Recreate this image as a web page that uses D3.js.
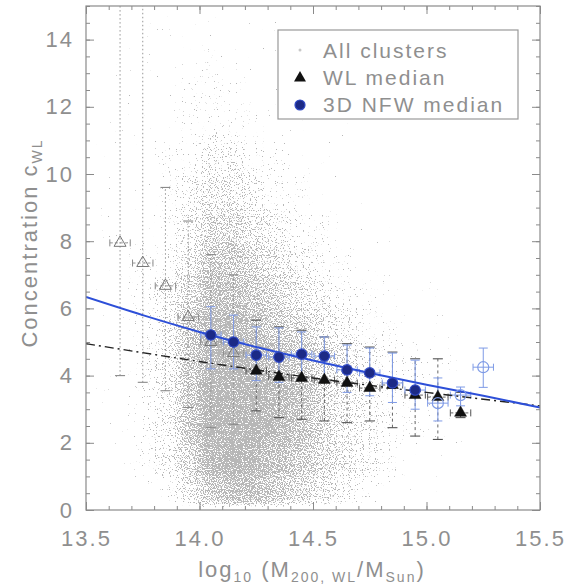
<!DOCTYPE html>
<html><head><meta charset="utf-8">
<script src="https://cdn.jsdelivr.net/npm/d3@7"></script>
<style>
body{margin:0;background:#fff}
text{font-family:"Liberation Sans",Arial,sans-serif;fill:#8f8f8f;letter-spacing:2px}
</style>
</head><body><svg id="c" width="566" height="586"></svg>
<script>
// ---------- data ----------
const xTickValues = [13.5, 14.0, 14.5, 15.0, 15.5];
const yTickValues = [0, 2, 4, 6, 8, 10, 12, 14];

// density of "All clusters" cloud: columns = log mass bins (left edges), rows = concentration bins (lower edges), level 0-9
const densityXBins = [13.5,13.6,13.7,13.8,13.9,14.0,14.1,14.2,14.3,14.4,14.5,14.6,14.7,14.8,14.9,15.0,15.1,15.2,15.3,15.4];
const densityYBins = [14,13,12,11,10,9,8,7,6,5,4,3,2,1,0];
const densityLevels = [
  [0,0,1,1,1,1,1,1,1,0,0,0,0,0,0,0,0,0,0,0],
  [0,1,1,1,1,2,1,1,1,1,0,0,0,0,0,0,0,0,0,0],
  [0,1,1,1,2,2,2,1,1,1,1,0,0,0,0,0,0,0,0,0],
  [1,1,1,1,2,2,2,2,1,1,1,1,0,0,0,0,0,0,0,0],
  [1,1,1,2,2,3,3,2,2,1,1,1,0,0,0,0,0,0,0,0],
  [1,1,1,2,3,4,4,3,2,2,1,1,1,0,0,0,0,0,0,0],
  [1,1,1,2,3,5,5,4,3,2,2,1,1,1,0,0,0,0,0,0],
  [1,1,2,2,4,6,6,5,4,3,2,2,1,1,1,0,0,0,0,0],
  [1,1,2,3,5,7,7,6,5,4,3,2,2,1,1,1,0,0,0,0],
  [1,1,2,3,6,8,8,7,6,5,4,3,2,2,1,1,1,0,0,0],
  [1,1,2,3,6,8,9,8,7,6,5,4,3,2,2,1,1,0,0,0],
  [1,1,2,3,6,9,9,9,8,7,5,4,3,2,2,1,1,1,0,0],
  [1,1,2,3,6,9,9,9,8,7,5,4,3,2,2,1,1,0,0,0],
  [1,1,2,3,5,8,9,8,7,6,5,4,3,2,1,1,1,0,0,0],
  [0,1,1,2,4,6,7,7,6,5,4,3,2,1,1,1,0,0,0,0]
];

// WL median (triangles)
const wlMass   = [13.65,13.75,13.85,13.95,14.05,14.15,14.25,14.35,14.45,14.55,14.65,14.75,14.85,14.95,15.05,15.15];
const wlMedian = [7.95,7.35,6.67,5.74,5.00,4.67,4.14,3.96,3.93,3.87,3.78,3.63,3.72,3.42,3.36,2.89];
const wlLow    = [4.00,3.80,3.55,3.05,2.45,2.55,2.95,2.75,2.70,2.65,2.60,2.65,2.45,2.20,2.10,2.75];
const wlHigh   = [16.0,16.0,9.60,8.60,7.60,7.00,5.65,5.45,5.35,5.15,4.95,4.85,4.70,4.50,4.50,3.50];
const wlFilled = [false,false,false,false,false,false,true,true,true,true,true,true,true,true,true,true];

// 3D NFW median (circles)
const nfwMass   = [14.05,14.15,14.25,14.35,14.45,14.55,14.65,14.75,14.85,14.95,15.05,15.15,15.25];
const nfwMedian = [5.21,5.00,4.61,4.55,4.64,4.58,4.17,4.08,3.78,3.57,3.18,3.42,4.25];
const nfwLow    = [4.20,4.20,3.85,3.80,3.90,3.85,3.50,3.40,3.20,3.00,2.65,3.10,3.65];
const nfwHigh   = [6.05,5.80,5.45,5.42,5.30,5.15,4.91,4.82,4.67,4.46,3.93,3.66,4.82];
const nfwFilled = [true,true,true,true,true,true,true,true,true,true,false,false,false];

// fitted relations
const nfwFitMass = [13.5,13.75,14.0,14.25,14.5,14.75,15.0,15.25,15.5];
const nfwFitConc = [6.34,5.80,5.30,4.85,4.45,4.08,3.73,3.40,3.05];
const wlFitMass  = [13.5,14.0,14.5,15.0,15.5];
const wlFitConc  = [4.95,4.42,3.93,3.50,3.10];

const legendLabels = ["All clusters","WL median","3D NFW median"];

// ---------- drawing ----------
const svg = d3.select("#c");
const X0=86, X1=540, Y0=510, Y1=6;
const x = d3.scaleLinear().domain([13.5,15.5]).range([X0,X1]);
const y = d3.scaleLinear().domain([0,15]).range([Y0,Y1]);
// density level -> source opacity (threshold against the noise field gives dot coverage)
const levelOpacity = d3.scaleLinear().domain([1,3,5,7,9]).range([0.35,0.49,0.58,0.66,0.74]);

const defs = svg.append("defs");
defs.append("clipPath").attr("id","plotclip").append("rect")
  .attr("x",X0).attr("y",Y1).attr("width",X1-X0).attr("height",Y0-Y1);

const f = defs.append("filter").attr("id","speckle")
  .attr("x",0).attr("y",0).attr("width",1).attr("height",1)
  .attr("color-interpolation-filters","sRGB");
f.append("feGaussianBlur").attr("in","SourceAlpha").attr("stdDeviation",6).attr("result","dens");
f.append("feTurbulence").attr("type","fractalNoise").attr("baseFrequency",0.85).attr("numOctaves",1).attr("seed",7).attr("result","turb");
f.append("feColorMatrix").attr("in","turb").attr("type","matrix")
  .attr("values","0 0 0 0 0  0 0 0 0 0  0 0 0 0 0  1 0 0 0 0").attr("result","noise");
f.append("feComposite").attr("in","noise").attr("in2","dens").attr("operator","arithmetic")
  .attr("k1",0).attr("k2",1).attr("k3",1).attr("k4",-1).attr("result","t");
f.append("feComponentTransfer").attr("in","t").attr("result","th")
  .append("feFuncA").attr("type","table").attr("tableValues","0 0 0 1 1 1 1 1 1 1 1 1 1 1 1 1 1 1 1 1 1");
f.append("feComponentTransfer").attr("in","dens").attr("result","mask")
  .append("feFuncA").attr("type","table").attr("tableValues","0 0 0 0 1 1 1 1 1 1 1 1 1 1 1 1 1 1 1 1 1");
f.append("feComposite").attr("in","th").attr("in2","mask").attr("operator","in").attr("result","dots");
f.append("feFlood").attr("flood-color","#b7b7b7").attr("result","col");
f.append("feComposite").attr("in","col").attr("in2","dots").attr("operator","in");

// cloud
const cells = [];
densityYBins.forEach((yb,i)=>densityXBins.forEach((xb,j)=>cells.push({xb,yb,v:densityLevels[i][j]})));
const cloud = svg.append("g").attr("filter","url(#speckle)");
cloud.append("rect").attr("x",X0).attr("y",Y1).attr("width",X1-X0).attr("height",Y0-Y1).attr("fill","#000").attr("fill-opacity",0.001);
cloud.selectAll("rect.cell").data(cells.filter(d=>d.v>0)).join("rect").attr("class","cell")
  .attr("x",d=>x(d.xb)).attr("y",d=>y(d.yb+1))
  .attr("width",d=>x(d.xb+0.1)-x(d.xb)).attr("height",d=>y(d.yb)-y(d.yb+1))
  .attr("fill","#000").attr("fill-opacity",d=>levelOpacity(d.v));

const plot = svg.append("g").attr("clip-path","url(#plotclip)");

// WL error bars
const wl = wlMass.map((m,i)=>({m,c:wlMedian[i],lo:wlLow[i],hi:wlHigh[i],filled:wlFilled[i]}));
const wlErr = plot.append("g");
wl.forEach(d=>{
  const col = d.filled ? "#555" : "#8a8a8a";
  wlErr.append("line").attr("x1",x(d.m)).attr("x2",x(d.m)).attr("y1",y(d.lo)).attr("y2",y(d.hi))
    .attr("stroke",col).attr("stroke-width",0.9).attr("stroke-dasharray",d.filled?"3,3":"1.5,2.5");
  [d.lo,d.hi].forEach(v=>wlErr.append("line").attr("x1",x(d.m)-5).attr("x2",x(d.m)+5)
    .attr("y1",y(v)).attr("y2",y(v)).attr("stroke",col).attr("stroke-width",1.1));
  wlErr.append("line").attr("x1",x(d.m-0.045)).attr("x2",x(d.m+0.045)).attr("y1",y(d.c)).attr("y2",y(d.c))
    .attr("stroke",col).attr("stroke-width",0.9).attr("stroke-dasharray","3,2");
  [d.m-0.045,d.m+0.045].forEach(v=>wlErr.append("line").attr("x1",x(v)).attr("x2",x(v))
    .attr("y1",y(d.c)-3.5).attr("y2",y(d.c)+3.5).attr("stroke",col).attr("stroke-width",1));
});

// NFW error bars
const nfw = nfwMass.map((m,i)=>({m,c:nfwMedian[i],lo:nfwLow[i],hi:nfwHigh[i],filled:nfwFilled[i]}));
const nfwErr = plot.append("g");
nfw.forEach(d=>{
  const col = "#7f9be6";
  nfwErr.append("line").attr("x1",x(d.m)).attr("x2",x(d.m)).attr("y1",y(d.lo)).attr("y2",y(d.hi))
    .attr("stroke",col).attr("stroke-width",1);
  [d.lo,d.hi].forEach(v=>nfwErr.append("line").attr("x1",x(d.m)-4.5).attr("x2",x(d.m)+4.5)
    .attr("y1",y(v)).attr("y2",y(v)).attr("stroke",col).attr("stroke-width",1));
  nfwErr.append("line").attr("x1",x(d.m-0.045)).attr("x2",x(d.m+0.045)).attr("y1",y(d.c)).attr("y2",y(d.c))
    .attr("stroke",col).attr("stroke-width",1);
  [d.m-0.045,d.m+0.045].forEach(v=>nfwErr.append("line").attr("x1",x(v)).attr("x2",x(v))
    .attr("y1",y(d.c)-3.5).attr("y2",y(d.c)+3.5).attr("stroke",col).attr("stroke-width",1));
});

// fit lines
const lineGen = d3.line().x(d=>x(d[0])).y(d=>y(d[1])).curve(d3.curveMonotoneX);
plot.append("path").datum(wlFitMass.map((m,i)=>[m,wlFitConc[i]]))
  .attr("d",lineGen).attr("fill","none").attr("stroke","#222").attr("stroke-width",1.4)
  .attr("stroke-dasharray","9,4,2,4");
plot.append("path").datum(nfwFitMass.map((m,i)=>[m,nfwFitConc[i]]))
  .attr("d",lineGen).attr("fill","none").attr("stroke","#2d4fd8").attr("stroke-width",2);

// markers
const tri = d3.symbol().type(d3.symbolTriangle).size(62);
plot.append("g").selectAll("path").data(wl).join("path")
  .attr("d",tri).attr("transform",d=>`translate(${x(d.m)},${y(d.c)})`)
  .attr("fill",d=>d.filled?"#111":"none").attr("stroke",d=>d.filled?"#111":"#777").attr("stroke-width",d=>d.filled?0.5:1);
plot.append("g").selectAll("circle").data(nfw).join("circle")
  .attr("cx",d=>x(d.m)).attr("cy",d=>y(d.c)).attr("r",d=>d.filled?5.2:5.5)
  .attr("fill",d=>d.filled?"#1c2a86":"none").attr("stroke",d=>d.filled?"#2f48c4":"#7f9be6").attr("stroke-width",1.2);

// axes (ticks inward on all four sides)
const xMinor = d3.range(13.5,15.5001,0.1);
const yMinor = d3.range(0,15.0001,0.5);
function styleAxis(g){g.select(".domain").remove();g.selectAll("line").attr("stroke","#8a8a8a").attr("stroke-width",1);}
svg.append("g").attr("transform",`translate(0,${Y0})`).call(d3.axisBottom(x).tickValues(xMinor).tickSize(-4).tickFormat("")).call(styleAxis);
svg.append("g").attr("transform",`translate(0,${Y1})`).call(d3.axisTop(x).tickValues(xMinor).tickSize(-4).tickFormat("")).call(styleAxis);
svg.append("g").attr("transform",`translate(${X0},0)`).call(d3.axisLeft(y).tickValues(yMinor).tickSize(-4).tickFormat("")).call(styleAxis);
svg.append("g").attr("transform",`translate(${X1},0)`).call(d3.axisRight(y).tickValues(yMinor).tickSize(-4).tickFormat("")).call(styleAxis);

const bx = svg.append("g").attr("transform",`translate(0,${Y0})`)
  .call(d3.axisBottom(x).tickValues(xTickValues).tickSize(-8).tickPadding(20).tickFormat(d3.format(".1f"))).call(styleAxis);
bx.selectAll("text").attr("font-size",22).attr("fill","#8f8f8f").attr("font-family",null);
svg.append("g").attr("transform",`translate(0,${Y1})`).call(d3.axisTop(x).tickValues(xTickValues).tickSize(-8).tickFormat("")).call(styleAxis);
const ly = svg.append("g").attr("transform",`translate(${X0},0)`)
  .call(d3.axisLeft(y).tickValues(yTickValues).tickSize(-8).tickPadding(12).tickFormat(d3.format("d"))).call(styleAxis);
ly.selectAll("text").attr("font-size",22).attr("fill","#8f8f8f").attr("font-family",null);
svg.append("g").attr("transform",`translate(${X1},0)`).call(d3.axisRight(y).tickValues(yTickValues).tickSize(-8).tickFormat("")).call(styleAxis);

svg.append("rect").attr("x",X0).attr("y",Y1).attr("width",X1-X0).attr("height",Y0-Y1)
  .attr("fill","none").attr("stroke","#8a8a8a").attr("stroke-width",1.2);

// legend
const lg = svg.append("g");
lg.append("rect").attr("x",278).attr("y",30).attr("width",240).attr("height",89)
  .attr("fill","#fff").attr("stroke","#999").attr("stroke-width",1.2);
const rowsY = [50,77,104];
lg.append("circle").attr("cx",300).attr("cy",rowsY[0]).attr("r",1.5).attr("fill","#c8c8c8");
lg.append("path").attr("d",tri).attr("transform",`translate(300,${rowsY[1]+1})`).attr("fill","#111");
lg.append("circle").attr("cx",300).attr("cy",rowsY[2]+1).attr("r",5).attr("fill","#1c2a86").attr("stroke","#2f48c4").attr("stroke-width",1.2);
legendLabels.forEach((t,i)=>lg.append("text").attr("x",323).attr("y",rowsY[i]).attr("dy","0.36em")
  .attr("font-size",21).text(t));

// axis titles
const xt = svg.append("text").attr("x",312).attr("y",577).attr("text-anchor","middle").attr("font-size",22);
xt.append("tspan").text("log");
xt.append("tspan").attr("font-size",14).attr("dy",5).text("10");
xt.append("tspan").attr("dy",-5).text(" (M");
xt.append("tspan").attr("font-size",14).attr("dy",5).text("200, WL");
xt.append("tspan").attr("dy",-5).text("/M");
xt.append("tspan").attr("font-size",14).attr("dy",5).text("Sun");
xt.append("tspan").attr("dy",-5).text(")");

const yt = svg.append("text").attr("transform","translate(37,243) rotate(-90)").attr("text-anchor","middle").attr("font-size",22);
yt.append("tspan").text("Concentration c");
yt.append("tspan").attr("font-size",14).attr("dy",5).text("WL");
</script>
</body></html>
